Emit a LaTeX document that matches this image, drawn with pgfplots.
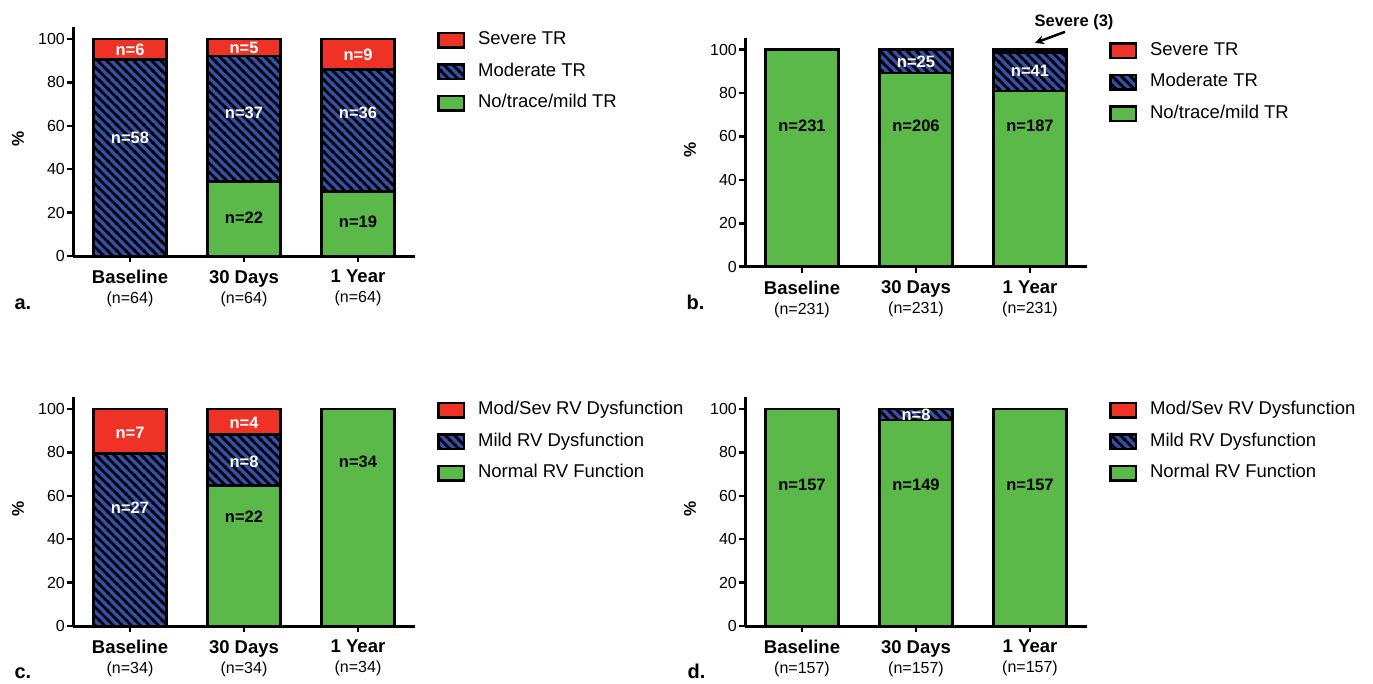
\documentclass[border=0pt]{standalone}
\usepackage{pgfplots}
\pgfplotsset{compat=1.18}
\usepackage{fontspec}
\setmainfont{Liberation Sans}
\usetikzlibrary{patterns, arrows.meta}

\definecolor{svred}{RGB}{238,50,38}
\definecolor{mdblue}{RGB}{52,80,170}
\definecolor{nogreen}{RGB}{90,185,72}

\pgfdeclarepatternformonly{nwstripes}{\pgfpoint{-1pt}{-1pt}}{\pgfpoint{10pt}{10pt}}{\pgfpoint{9pt}{9pt}}{%
  \pgfsetlinewidth{2.8pt}%
  \pgfpathmoveto{\pgfpoint{-1pt}{10pt}}\pgfpathlineto{\pgfpoint{10pt}{-1pt}}%
  \pgfpathmoveto{\pgfpoint{-1pt}{1pt}}\pgfpathlineto{\pgfpoint{1pt}{-1pt}}%
  \pgfpathmoveto{\pgfpoint{8pt}{10pt}}\pgfpathlineto{\pgfpoint{10pt}{8pt}}%
  \pgfusepath{stroke}}

\newcommand{\xl}[2]{{\fontsize{18.5}{20}\selectfont\bfseries #1}\\(n=#2)}

\pgfplotsset{
  panel/.style={
    scale only axis, width=342pt, height=229pt,
    anchor=south west,
    ybar stacked, bar width=73pt,
    xmin=-0.5, xmax=2.5, ymin=0, ymax=105.5,
    axis x line*=bottom, axis y line*=left,
    axis line style={line width=3pt, black},
    xtick={0,1,2}, ytick={0,20,40,60,80,100},
    tick align=outside, major tick length=6pt,
    tick style={line width=2.5pt, black},
    /pgf/number format/assume math mode=true,
    yticklabel style={font=\fontsize{16}{16}\selectfont, inner sep=2pt},
    xticklabel style={align=center, font=\fontsize{16}{20}\selectfont, inner sep=0pt, anchor=north, yshift=-8pt},
    ylabel={\%},
    ylabel style={font=\bfseries\fontsize{17}{17}\selectfont, at={(axis description cs:-0.161,0.51)}, anchor=center},
    clip=false,
    legend cell align=left,
    reverse legend,
    legend style={at={(1.064,0.98)}, anchor=north west, draw=none, fill=none, inner sep=0pt,
      font=\fontsize{18.5}{18.5}\selectfont, row sep=14.5pt,
      nodes={inner sep=0pt, text height=13pt, text depth=4pt},
      /tikz/every odd column/.append style={column sep=13pt}},
    legend image code/.code={\draw[#1, line width=2.5pt] (0pt,-7.25pt) rectangle (25.5pt,7.25pt);},
    every axis plot/.append style={draw=black, line width=2.5pt},
  },
  gr/.style={fill=nogreen},
  bl/.style={fill=mdblue, postaction={pattern=nwstripes, pattern color=black}},
  rd/.style={fill=svred},
}
\tikzset{
  wl/.style={font=\bfseries\fontsize{16.5}{16.5}\selectfont, text=white},
  kl/.style={font=\bfseries\fontsize{16.5}{16.5}\selectfont, text=black},
  pl/.style={font=\bfseries\fontsize{20}{20}\selectfont, anchor=base west},
}

\begin{document}
\begin{tikzpicture}
\useasboundingbox (0,0) rectangle (1373pt,-683pt);

% ---------------- panel a ----------------
\begin{axis}[panel, at={(73pt,-256pt)},
  xticklabels={{\xl{Baseline}{64}},{\xl{30 Days}{64}},{\xl{1 Year}{64}}}]
\addplot[gr] coordinates {(0,0) (1,34.375) (2,29.6875)};
\addplot[bl] coordinates {(0,90.625) (1,57.8125) (2,56.25)};
\addplot[rd] coordinates {(0,9.375) (1,7.8125) (2,14.0625)};
\legend{No/trace/mild TR, Moderate TR, Severe TR}
\coordinate (a1) at (axis cs:0,95.2);
\coordinate (a2) at (axis cs:0,54.4);
\coordinate (a3) at (axis cs:1,95.9);
\coordinate (a4) at (axis cs:1,65.9);
\coordinate (a5) at (axis cs:1,17.5);
\coordinate (a6) at (axis cs:2,92.6);
\coordinate (a7) at (axis cs:2,65.9);
\coordinate (a8) at (axis cs:2,15.7);
\end{axis}
\node[wl] at (a1) {n=6};
\node[wl] at (a2) {n=58};
\node[wl] at (a3) {n=5};
\node[wl] at (a4) {n=37};
\node[kl] at (a5) {n=22};
\node[wl] at (a6) {n=9};
\node[wl] at (a7) {n=36};
\node[kl] at (a8) {n=19};

% ---------------- panel b ----------------
\begin{axis}[panel, at={(745pt,-266.7pt)},
  xticklabels={{\xl{Baseline}{231}},{\xl{30 Days}{231}},{\xl{1 Year}{231}}}]
\addplot[gr] coordinates {(0,100) (1,89.177) (2,80.952)};
\addplot[bl] coordinates {(0,0) (1,10.823) (2,17.749)};
\addplot[rd] coordinates {(0,0) (1,0) (2,1.299)};
\legend{No/trace/mild TR, Moderate TR, Severe TR}
\coordinate (b1) at (axis cs:0,64.8);
\coordinate (b2) at (axis cs:1,64.8);
\coordinate (b3) at (axis cs:1,94.5);
\coordinate (b4) at (axis cs:2,64.8);
\coordinate (b5) at (axis cs:2,90.3);
\coordinate (b6) at (axis cs:2.386,112.8);
\coordinate (b7) at (axis cs:2.307,108.2);
\coordinate (b8) at (axis cs:2.044,103.1);
\end{axis}
\node[kl] at (b1) {n=231};
\node[kl] at (b2) {n=206};
\node[wl] at (b3) {n=25};
\node[kl] at (b4) {n=187};
\node[wl] at (b5) {n=41};
\node[kl] at (b6) {Severe (3)};
\draw[line width=2.5pt, -{Stealth[length=9pt,width=9pt]}] (b7) -- (b8);

% ---------------- panel c ----------------
\begin{axis}[panel, at={(73pt,-626pt)},
  xticklabels={{\xl{Baseline}{34}},{\xl{30 Days}{34}},{\xl{1 Year}{34}}}]
\addplot[gr] coordinates {(0,0) (1,64.706) (2,100)};
\addplot[bl] coordinates {(0,79.412) (1,23.529) (2,0)};
\addplot[rd] coordinates {(0,20.588) (1,11.765) (2,0)};
\legend{Normal RV Function, Mild RV Dysfunction, Mod/Sev RV Dysfunction}
\coordinate (c1) at (axis cs:0,88.9);
\coordinate (c2) at (axis cs:0,54.4);
\coordinate (c3) at (axis cs:1,93.5);
\coordinate (c4) at (axis cs:1,75.6);
\coordinate (c5) at (axis cs:1,50.2);
\coordinate (c6) at (axis cs:2,75.6);
\end{axis}
\node[wl] at (c1) {n=7};
\node[wl] at (c2) {n=27};
\node[wl] at (c3) {n=4};
\node[wl] at (c4) {n=8};
\node[kl] at (c5) {n=22};
\node[kl] at (c6) {n=34};

% ---------------- panel d ----------------
\begin{axis}[panel, at={(745pt,-626pt)},
  xticklabels={{\xl{Baseline}{157}},{\xl{30 Days}{157}},{\xl{1 Year}{157}}}]
\addplot[gr] coordinates {(0,100) (1,94.904) (2,100)};
\addplot[bl] coordinates {(0,0) (1,5.096) (2,0)};
\addplot[rd] coordinates {(0,0) (1,0) (2,0)};
\legend{Normal RV Function, Mild RV Dysfunction, Mod/Sev RV Dysfunction}
\coordinate (d1) at (axis cs:0,65);
\coordinate (d2) at (axis cs:1,65);
\coordinate (d3) at (axis cs:1,97.2);
\coordinate (d4) at (axis cs:2,65);
\end{axis}
\node[kl] at (d1) {n=157};
\node[kl] at (d2) {n=149};
\node[wl] at (d3) {n=8};
\node[kl] at (d4) {n=157};

\node[pl] at (11pt,-309pt) {a.};
\node[pl] at (683pt,-309pt) {b.};
\node[pl] at (11pt,-678pt) {c.};
\node[pl] at (684pt,-678pt) {d.};
\end{tikzpicture}
\end{document}
